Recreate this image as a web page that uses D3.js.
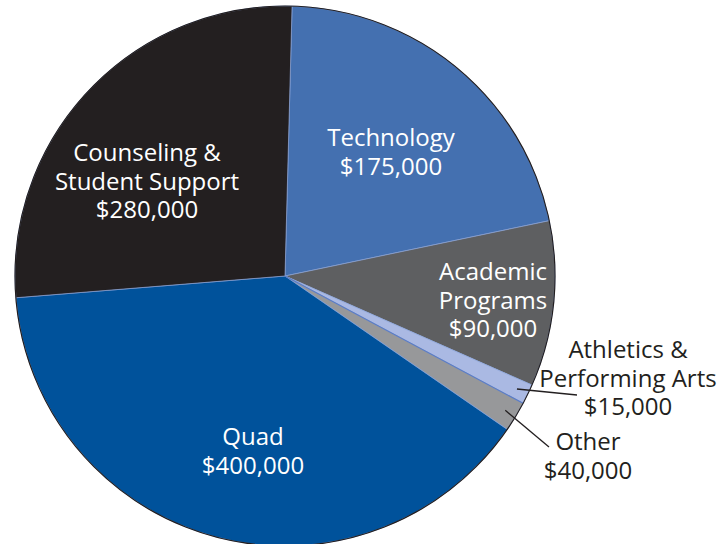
<!DOCTYPE html>
<html>
<head>
<meta charset="utf-8">
<script src="https://cdn.jsdelivr.net/npm/d3@7"></script>
<style>
  body { margin: 0; background: #fff; }
  text { font-family: "Open Sans", "Noto Sans", sans-serif; font-size: 24px; }
</style>
</head>
<body>
<div id="pie_chart"></div>
<script>
// categories, in drawing order (clockwise from the top)
const categories = ["Technology", "Academic Programs", "Athletics & Performing Arts", "Other", "Quad", "Counseling & Student Support"];
// dollar amounts shown in the labels
const amounts = [175000, 90000, 15000, 40000, 400000, 280000];
// slice sizes as drawn in the picture (percent of the circle)
const shares = [21.3, 9.9, 1.2, 1.8, 39.1, 26.7];
// label lines
const labelLines = [
  ["Technology"],
  ["Academic", "Programs"],
  ["Athletics &", "Performing Arts"],
  ["Other"],
  ["Quad"],
  ["Counseling &", "Student Support"]
];

const width = 726, height = 544;
const cx = 285, cy = 276, radius = 270;

const colors = d3.scaleOrdinal()
  .domain(categories)
  .range(["#4470b0", "#5e5f61", "#aab9e3", "#97989a", "#00529b", "#231f20"]);

// label anchor (relative to pie centre), text colour, leader line end
const labelLayout = {
  "Technology": {x: 106, y: -130, fill: "#fff"},
  "Academic Programs": {x: 208, y: 4, fill: "#fff"},
  "Athletics & Performing Arts": {x: 343, y: 82, fill: "#231f20", leader: [292, 119]},
  "Other": {x: 303, y: 174, fill: "#231f20", leader: [264, 171]},
  "Quad": {x: -32, y: 169, fill: "#fff"},
  "Counseling & Student Support": {x: -138, y: -115, fill: "#fff"}
};
const lineHeight = 28.5;

const svg = d3.select("#pie_chart")
  .append("svg")
    .attr("width", width)
    .attr("height", height)
  .append("g")
    .attr("transform", `translate(${cx}, ${cy})`);

const data = categories.map((c, i) => ({category: c, amount: amounts[i], share: shares[i], lines: labelLines[i]}));

const pie = d3.pie()
  .sort(null)
  .value(d => d.share)
  .startAngle(1.5 * Math.PI / 180)
  .endAngle(1.5 * Math.PI / 180 + 2 * Math.PI);

const arc = d3.arc().innerRadius(0).outerRadius(radius);
const leaderArc = d3.arc().innerRadius(258).outerRadius(258);

const arcs = pie(data);

// slices
svg.selectAll("path.slice")
  .data(arcs)
  .join("path")
    .attr("class", "slice")
    .attr("d", arc)
    .attr("fill", d => colors(d.data.category))
    .attr("stroke", "#8aa3d8")
    .attr("stroke-width", 0.7);

// darker blue edge along the lower side of the athletics slice
const ath = arcs.find(d => d.data.category === "Athletics & Performing Arts");
svg.append("line")
  .attr("x1", 0).attr("y1", 0)
  .attr("x2", radius * Math.sin(ath.endAngle))
  .attr("y2", -radius * Math.cos(ath.endAngle))
  .attr("stroke", "#5b7cc4")
  .attr("stroke-width", 1.2);

// outer rim
svg.append("circle")
  .attr("r", radius)
  .attr("fill", "none")
  .attr("stroke", "#231f20")
  .attr("stroke-width", 1.2);

// leader lines for the small slices
svg.selectAll("line.leader")
  .data(arcs.filter(d => labelLayout[d.data.category].leader))
  .join("line")
    .attr("class", "leader")
    .attr("x1", d => leaderArc.centroid(d)[0])
    .attr("y1", d => leaderArc.centroid(d)[1])
    .attr("x2", d => labelLayout[d.data.category].leader[0])
    .attr("y2", d => labelLayout[d.data.category].leader[1])
    .attr("stroke", "#231f20")
    .attr("stroke-width", 1.3);

// labels
const fmt = d3.format("$,");
const labels = svg.selectAll("text.label")
  .data(arcs)
  .join("text")
    .attr("class", "label")
    .attr("text-anchor", "middle")
    .attr("fill", d => labelLayout[d.data.category].fill)
    .attr("transform", d => `translate(${labelLayout[d.data.category].x}, ${labelLayout[d.data.category].y})`);

labels.each(function(d) {
  const lines = d.data.lines.concat([fmt(d.data.amount)]);
  d3.select(this).selectAll("tspan")
    .data(lines)
    .join("tspan")
      .attr("x", 0)
      .attr("y", (l, i) => i * lineHeight)
      .text(l => l);
});
</script>
</body>
</html>
